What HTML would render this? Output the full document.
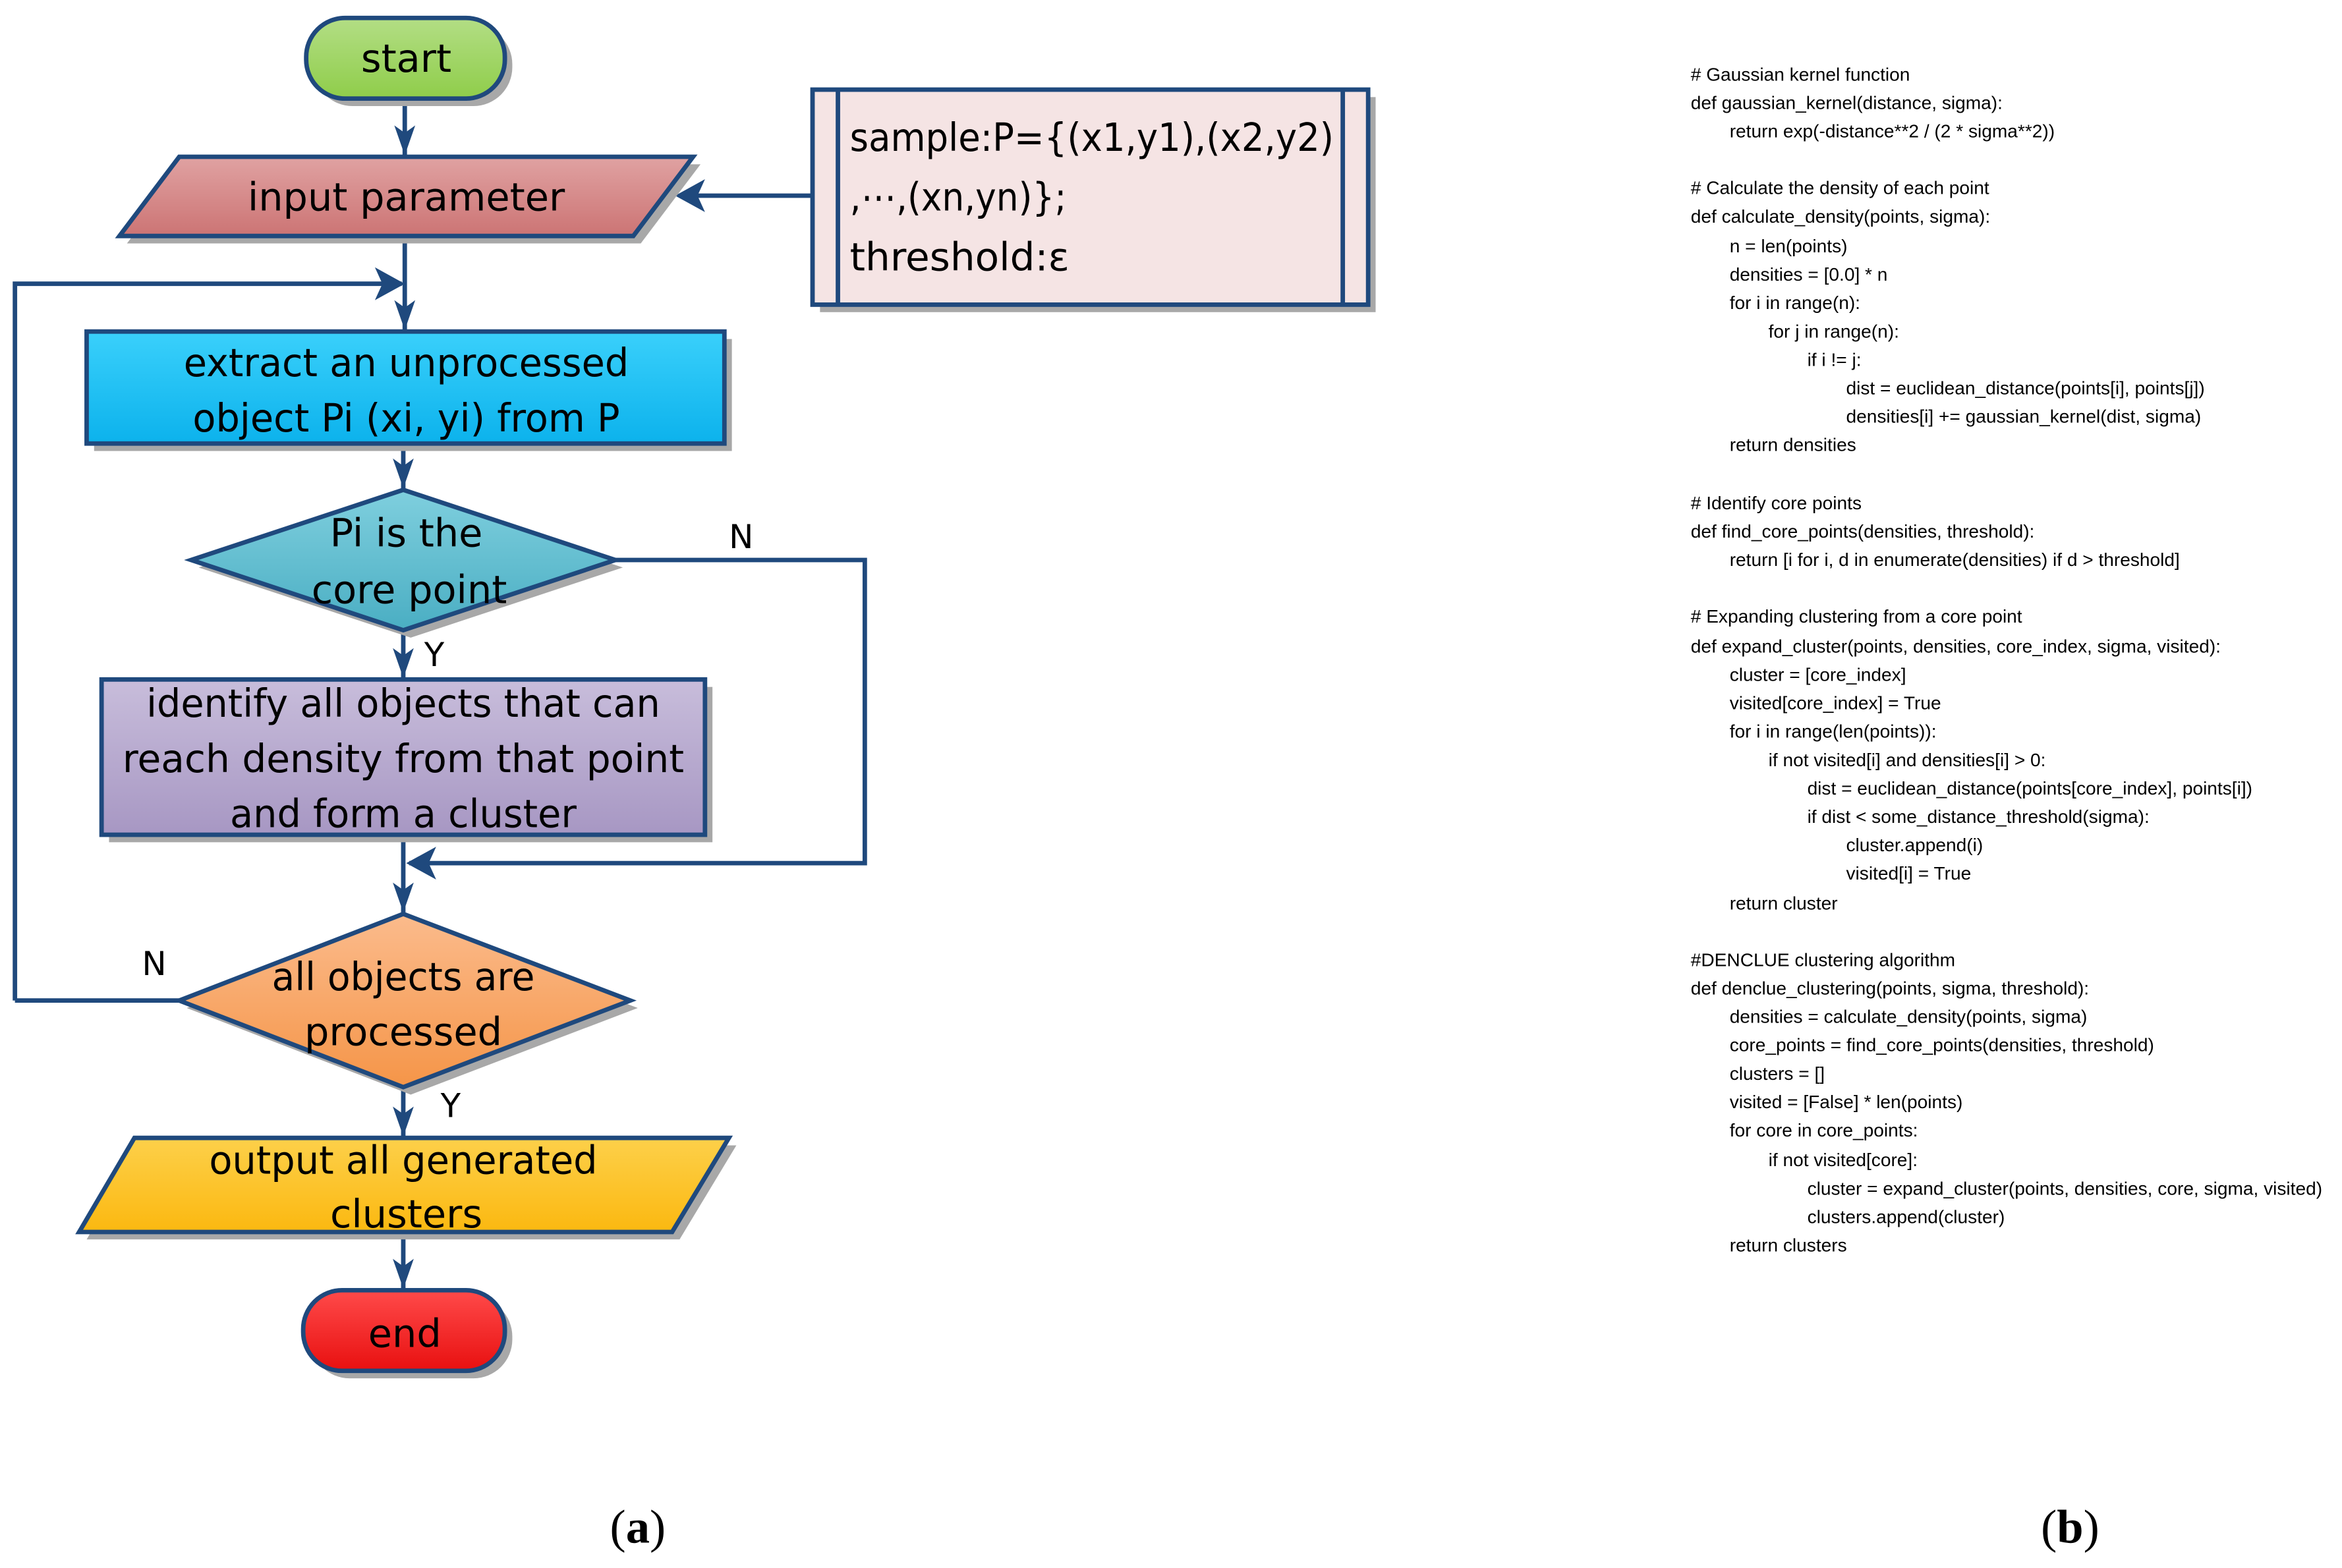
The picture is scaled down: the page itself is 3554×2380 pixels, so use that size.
<!DOCTYPE html>
<html><head><meta charset="utf-8"><style>
html,body{margin:0;padding:0;background:#fff;}
svg{display:block;}
.t{font-family:"DejaVu Sans","Liberation Sans",sans-serif;fill:#000;}
.c{font-family:"Liberation Sans","DejaVu Sans",sans-serif;font-size:12.4px;fill:#000;}
</style></head><body>
<svg width="3554" height="2380" viewBox="0 0 1568 1050" xmlns="http://www.w3.org/2000/svg">
<defs>
<linearGradient id="gG" x1="0" y1="0" x2="0" y2="1"><stop offset="0" stop-color="#b3de85"/><stop offset="1" stop-color="#8fcd4a"/></linearGradient>
<linearGradient id="gR" x1="0" y1="0" x2="0" y2="1"><stop offset="0" stop-color="#e0a2a2"/><stop offset="1" stop-color="#cc7474"/></linearGradient>
<linearGradient id="gC" x1="0" y1="0" x2="0" y2="1"><stop offset="0" stop-color="#3ad0fb"/><stop offset="1" stop-color="#0cb2ec"/></linearGradient>
<linearGradient id="gT" x1="0" y1="0" x2="0" y2="1"><stop offset="0" stop-color="#7fcfde"/><stop offset="1" stop-color="#4aaec3"/></linearGradient>
<linearGradient id="gP" x1="0" y1="0" x2="0" y2="1"><stop offset="0" stop-color="#c8bddb"/><stop offset="1" stop-color="#a797c3"/></linearGradient>
<linearGradient id="gO" x1="0" y1="0" x2="0" y2="1"><stop offset="0" stop-color="#fbbb8c"/><stop offset="1" stop-color="#f59548"/></linearGradient>
<linearGradient id="gY" x1="0" y1="0" x2="0" y2="1"><stop offset="0" stop-color="#fdd04a"/><stop offset="1" stop-color="#fbb810"/></linearGradient>
<linearGradient id="gE" x1="0" y1="0" x2="0" y2="1"><stop offset="0" stop-color="#ff4a4a"/><stop offset="1" stop-color="#e81010"/></linearGradient>
</defs>
<g stroke="#1f497d" stroke-width="3" fill="none">
<line x1="271" y1="66" x2="271" y2="104"/>
<line x1="544" y1="131" x2="456" y2="131"/>
<line x1="271" y1="158" x2="271" y2="221"/>
<polyline points="10,670 10,190 269,190"/>
<line x1="270" y1="297" x2="270" y2="327"/>
<polyline points="412,375 579,375 579,578 274,578"/>
<line x1="270" y1="422" x2="270" y2="454"/>
<line x1="270" y1="559" x2="270" y2="611"/>
<line x1="120" y1="670" x2="10" y2="670"/>
<line x1="270" y1="728" x2="270" y2="761"/>
<line x1="270" y1="825" x2="270" y2="863"/>
</g>
<g fill="#1f497d">
<path d="M271,104 l-7,-20 l7,5 l7,-5 z"/>
<path d="M452,131 l20,-11 l-5,11 l5,11 z"/>
<path d="M271,221 l-7,-20 l7,5 l7,-5 z"/>
<path d="M271,190 l-20,-11 l5,11 l-5,11 z"/>
<path d="M270,327 l-7,-20 l7,5 l7,-5 z"/>
<path d="M272,578 l20,-11 l-5,11 l5,11 z"/>
<path d="M270,454 l-7,-20 l7,5 l7,-5 z"/>
<path d="M270,611 l-7,-20 l7,5 l7,-5 z"/>
<path d="M270,761 l-7,-20 l7,5 l7,-5 z"/>
<path d="M270,863 l-7,-20 l7,5 l7,-5 z"/>
</g>
<g fill="#a8a8a8">
<rect x="210" y="17" width="133" height="54" rx="26"/>
<polygon points="85,163 125,110 469,110 429,163"/>
<rect x="549" y="65" width="372" height="144"/>
<rect x="63" y="227" width="427" height="75"/>
<polygon points="133,380 275,333 417,380 275,427"/>
<rect x="73" y="460" width="404" height="104"/>
<polygon points="125,675 275,617 427,675 275,733"/>
<polygon points="58,830 95,767 493,767 455,830"/>
<rect x="208" y="869" width="135" height="54" rx="26"/>
</g>
<g stroke="#1f497d" stroke-width="3">
<rect x="205" y="12" width="133" height="54" rx="26" fill="url(#gG)"/>
<polygon points="80,158 120,105 464,105 424,158" fill="url(#gR)"/>
<rect x="544" y="60" width="372" height="144" fill="#f5e4e4"/>
<line x1="561" y1="60" x2="561" y2="204"/>
<line x1="899" y1="60" x2="899" y2="204"/>
<rect x="58" y="222" width="427" height="75" fill="url(#gC)"/>
<polygon points="128,375 270,328 412,375 270,422" fill="url(#gT)"/>
<rect x="68" y="455" width="404" height="104" fill="url(#gP)"/>
<polygon points="120,670 270,612 422,670 270,728" fill="url(#gO)"/>
<polygon points="53,825 90,762 488,762 450,825" fill="url(#gY)"/>
<rect x="203" y="864" width="135" height="54" rx="26" fill="url(#gE)"/>
</g>
<g class="t" font-size="26" text-anchor="middle">
<text x="272" y="48">start</text>
<text x="272" y="141">input parameter</text>
<text x="272" y="252" textLength="298" lengthAdjust="spacingAndGlyphs">extract an unprocessed</text>
<text x="272" y="289" textLength="286" lengthAdjust="spacingAndGlyphs">object Pi (xi, yi) from P</text>
<text x="272" y="366">Pi is the</text>
<text x="274" y="404">core point</text>
<text x="270" y="480" textLength="344" lengthAdjust="spacingAndGlyphs">identify all objects that can</text>
<text x="270" y="517" textLength="376" lengthAdjust="spacingAndGlyphs">reach density from that point</text>
<text x="270" y="554" textLength="232" lengthAdjust="spacingAndGlyphs">and form a cluster</text>
<text x="270" y="663" textLength="176" lengthAdjust="spacingAndGlyphs">all objects are</text>
<text x="270" y="700">processed</text>
<text x="270" y="786" textLength="260" lengthAdjust="spacingAndGlyphs">output all generated</text>
<text x="272" y="822">clusters</text>
<text x="271" y="902">end</text>
</g>
<g class="t" font-size="26">
<text x="569" y="101" textLength="324" lengthAdjust="spacingAndGlyphs">sample:P={(x1,y1),(x2,y2)</text>
<text x="569" y="141" textLength="145" lengthAdjust="spacingAndGlyphs">,⋯,(xn,yn)};</text>
<text x="569" y="181" textLength="147" lengthAdjust="spacingAndGlyphs">threshold:ε</text>
</g>
<g class="t" font-size="22">
<text x="488" y="367">N</text>
<text x="284" y="446">Y</text>
<text x="95" y="653">N</text>
<text x="295" y="748">Y</text>
</g>
<g font-family="'Liberation Serif',serif" font-size="32" text-anchor="middle" fill="#000">
<text x="427" y="1033">(<tspan font-weight="bold">a</tspan>)</text>
<text x="1386" y="1033">(<tspan font-weight="bold">b</tspan>)</text>
</g>
<g class="c">
<text x="1132" y="54"># Gaussian kernel function</text>
<text x="1132" y="73">def gaussian_kernel(distance, sigma):</text>
<text x="1158" y="92">return exp(-distance**2 / (2 * sigma**2))</text>
<text x="1132" y="130"># Calculate the density of each point</text>
<text x="1132" y="149">def calculate_density(points, sigma):</text>
<text x="1158" y="169">n = len(points)</text>
<text x="1158" y="188">densities = [0.0] * n</text>
<text x="1158" y="207">for i in range(n):</text>
<text x="1184" y="226">for j in range(n):</text>
<text x="1210" y="245">if i != j:</text>
<text x="1236" y="264">dist = euclidean_distance(points[i], points[j])</text>
<text x="1236" y="283">densities[i] += gaussian_kernel(dist, sigma)</text>
<text x="1158" y="302">return densities</text>
<text x="1132" y="341"># Identify core points</text>
<text x="1132" y="360">def find_core_points(densities, threshold):</text>
<text x="1158" y="379">return [i for i, d in enumerate(densities) if d &gt; threshold]</text>
<text x="1132" y="417"># Expanding clustering from a core point</text>
<text x="1132" y="437">def expand_cluster(points, densities, core_index, sigma, visited):</text>
<text x="1158" y="456">cluster = [core_index]</text>
<text x="1158" y="475">visited[core_index] = True</text>
<text x="1158" y="494">for i in range(len(points)):</text>
<text x="1184" y="513">if not visited[i] and densities[i] &gt; 0:</text>
<text x="1210" y="532">dist = euclidean_distance(points[core_index], points[i])</text>
<text x="1210" y="551">if dist &lt; some_distance_threshold(sigma):</text>
<text x="1236" y="570">cluster.append(i)</text>
<text x="1236" y="589">visited[i] = True</text>
<text x="1158" y="609">return cluster</text>
<text x="1132" y="647">#DENCLUE clustering algorithm</text>
<text x="1132" y="666">def denclue_clustering(points, sigma, threshold):</text>
<text x="1158" y="685">densities = calculate_density(points, sigma)</text>
<text x="1158" y="704">core_points = find_core_points(densities, threshold)</text>
<text x="1158" y="723">clusters = []</text>
<text x="1158" y="742">visited = [False] * len(points)</text>
<text x="1158" y="761">for core in core_points:</text>
<text x="1184" y="781">if not visited[core]:</text>
<text x="1210" y="800">cluster = expand_cluster(points, densities, core, sigma, visited)</text>
<text x="1210" y="819">clusters.append(cluster)</text>
<text x="1158" y="838">return clusters</text>
</g>
</svg>
</body></html>
